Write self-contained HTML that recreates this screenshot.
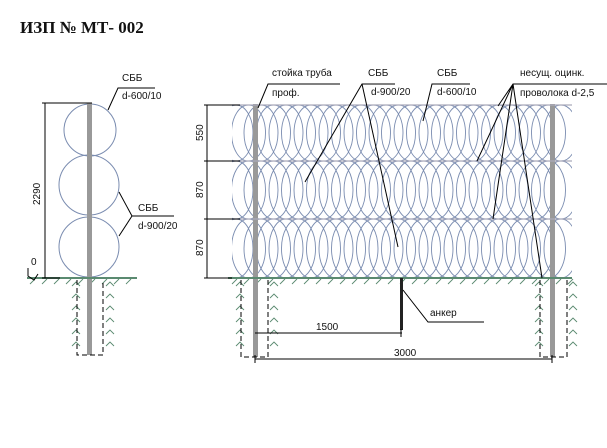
<!DOCTYPE html>
<html><head><meta charset="utf-8"><style>
body{margin:0;background:#fff}
svg{display:block}
text{font-family:"Liberation Sans",sans-serif;font-size:10px;fill:#111}
</style></head><body>
<svg id="s" width="607" height="448" viewBox="0 0 607 448" xmlns="http://www.w3.org/2000/svg">
<defs><clipPath id="cp"><rect x="232" y="100" width="340" height="180"/></clipPath></defs>
<text x="20" y="33" style="font-family:'Liberation Serif',serif;font-size:17px;font-weight:bold">ИЗП № МТ- 002</text>
<g id="coil" fill="none" stroke="#7a8cb0" stroke-width="0.9" clip-path="url(#cp)"></g>
<g id="hatch" stroke="#5a8a70" stroke-width="0.9" fill="none"></g>
<g fill="none" stroke="#7a8cb0" stroke-width="1">
<circle cx="90" cy="130" r="26"/><circle cx="89" cy="185" r="30"/><circle cx="89" cy="247" r="30"/>
</g>
<rect x="87" y="103" width="5" height="252" fill="#999"/>
<line x1="27" y1="278" x2="137" y2="278" stroke="#5a8a70" stroke-width="2"/>
<g stroke="#000" stroke-width="1" fill="none">
<path d="M77 280V355H103V280" stroke-dasharray="5,3"/>
<line x1="45" y1="103" x2="45" y2="278"/><line x1="42" y1="103" x2="92" y2="103"/><line x1="42" y1="278" x2="60" y2="278"/>
<path d="M28 268v8l6 4l4-6"/>
<path d="M108 110L118 88H155"/>
<path d="M119 192L132 216L119 236M132 216H174"/>
</g>
<text x="31" y="265">0</text>
<text transform="translate(40,205) rotate(-90)">2290</text>
<text x="122" y="81">СББ</text><text x="122" y="99">d-600/10</text>
<text x="138" y="211">СББ</text><text x="138" y="229">d-900/20</text>
<rect x="253" y="104" width="5" height="253" fill="#999"/>
<rect x="550" y="104" width="5" height="253" fill="#999"/>
<g stroke="#aab" stroke-width="1.3">
<line x1="232" y1="105" x2="572" y2="105"/><line x1="232" y1="161" x2="572" y2="161"/><line x1="232" y1="219" x2="572" y2="219"/>
</g>
<line x1="228" y1="278" x2="572" y2="278" stroke="#5a8a70" stroke-width="2"/>
<rect x="400" y="278" width="3" height="52" fill="#222"/>
<g stroke="#000" stroke-width="1" fill="none">
<path d="M241 280V357H268V280M540 280V357H567V280" stroke-dasharray="5,3"/>
<line x1="207" y1="105" x2="207" y2="278"/>
<path d="M204 105H240M204 161H240M204 219H240M204 278H232"/>
<path d="M255 333H402M255 359H552M255 355v8M552 355v8M401 329v8"/>
<path d="M403 290L428 322H484"/>
<path d="M258 108L268 84H340"/>
<path d="M305 182L362 84H395M362 84L398 247"/>
<path d="M423 121L432 84H470"/>
<path d="M477 161L513 84H607M513 84L493 219M513 84L498 106M513 84L542 278"/>
</g>
<text transform="translate(203,141) rotate(-90)">550</text>
<text transform="translate(203,198) rotate(-90)">870</text>
<text transform="translate(203,256) rotate(-90)">870</text>
<text x="316" y="330">1500</text><text x="394" y="356">3000</text>
<text x="430" y="316">анкер</text>
<text x="272" y="76">стойка труба</text><text x="272" y="96">проф.</text>
<text x="368" y="76">СББ</text><text x="371" y="95">d-900/20</text>
<text x="437" y="76">СББ</text><text x="437" y="95">d-600/10</text>
<text x="520" y="76">несущ. оцинк.</text><text x="520" y="96">проволока d-2,5</text>
</svg>
<script>
var g=document.getElementById('coil'),h='';
[[105,161],[161,219],[219,278]].forEach(function(r){
 var cy=(r[0]+r[1])/2,ry=(r[1]-r[0])/2;
 for(var x=236;x<=572;x+=12.5){h+='<ellipse cx="'+x+'" cy="'+cy+'" rx="17" ry="'+ry+'"/>';}
});
g.innerHTML=h;
var k='';
for(var x=30;x<135;x+=12)k+='<path d="M'+x+' 284l5-5"/>';
for(var x=232;x<570;x+=12)k+='<path d="M'+x+' 284l5-5"/>';
[[72,281],[106,281],[236,281],[270,281],[535,281],[569,281]].forEach(function(p){
 for(var y=p[1];y<352;y+=12)k+='<path d="M'+(p[0])+' '+(y+5)+'l4-4l4 4" />';
});
document.getElementById('hatch').innerHTML=k;
</script>
</body></html>
